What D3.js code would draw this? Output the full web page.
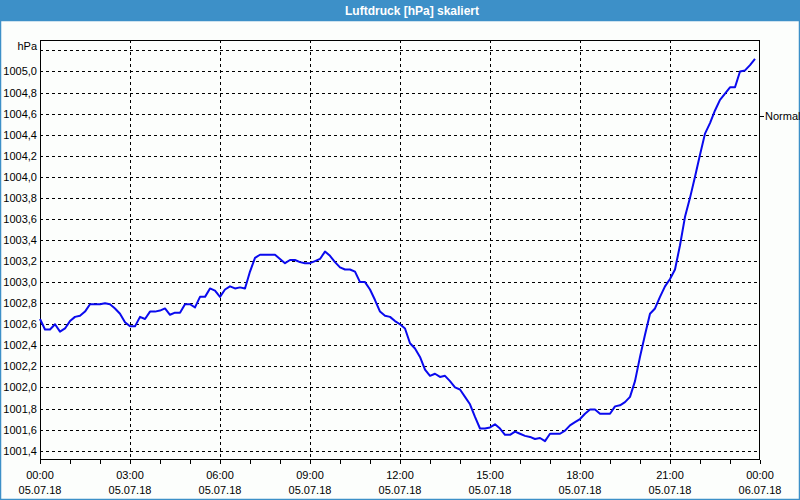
<!DOCTYPE html>
<html>
<head>
<meta charset="utf-8">
<script src="https://cdn.jsdelivr.net/npm/d3@7"></script>
<style>
html,body{margin:0;padding:0;background:#fcfefc;}
svg{display:block;}
text{font-family:"Liberation Sans",Arial,sans-serif;font-size:11px;fill:#000;}
</style>
</head>
<body>
<svg id="chart" width="800" height="500"></svg>
<script>
const title = "Luftdruck [hPa] skaliert";
const unitLabel = "hPa";
const refLabel = "Normal";
const refValue = 1004.58;
const startTime = "2018-07-05T00:00:00";
const endTime = "2018-07-06T00:00:00";
const stepMinutes = 10;
const pressure = [
1002.65,1002.55,1002.55,1002.60,1002.53,1002.56,1002.63,1002.67,1002.68,1002.72,
1002.79,1002.79,1002.79,1002.80,1002.79,1002.75,1002.70,1002.62,1002.58,1002.58,
1002.67,1002.65,1002.72,1002.72,1002.73,1002.75,1002.69,1002.71,1002.71,1002.79,
1002.79,1002.76,1002.86,1002.86,1002.94,1002.92,1002.86,1002.93,1002.96,1002.94,
1002.95,1002.94,1003.10,1003.23,1003.26,1003.26,1003.26,1003.26,1003.22,1003.18,
1003.21,1003.21,1003.19,1003.18,1003.18,1003.20,1003.22,1003.29,1003.25,1003.19,
1003.14,1003.12,1003.12,1003.10,1003.00,1003.00,1002.93,1002.83,1002.72,1002.68,
1002.67,1002.63,1002.60,1002.56,1002.42,1002.37,1002.29,1002.17,1002.11,1002.13,
1002.10,1002.11,1002.06,1002.00,1001.98,1001.91,1001.84,1001.72,1001.61,1001.61,
1001.62,1001.65,1001.61,1001.55,1001.55,1001.58,1001.56,1001.54,1001.53,1001.51,
1001.52,1001.49,1001.56,1001.56,1001.56,1001.59,1001.64,1001.67,1001.70,1001.75,
1001.79,1001.79,1001.75,1001.75,1001.75,1001.82,1001.83,1001.86,1001.91,1002.06,
1002.29,1002.50,1002.70,1002.75,1002.86,1002.96,1003.03,1003.12,1003.35,1003.62,
1003.80,1004.00,1004.21,1004.41,1004.51,1004.63,1004.73,1004.79,1004.85,1004.85,
1005.00,1005.01,1005.06,1005.12
];
const yTicks = [1001.4,1001.6,1001.8,1002.0,1002.2,1002.4,1002.6,1002.8,1003.0,1003.2,1003.4,1003.6,1003.8,1004.0,1004.2,1004.4,1004.6,1004.8,1005.0];
const yGridTop = 1005.2;
const xTickHours = ["00:00","03:00","06:00","09:00","12:00","15:00","18:00","21:00","00:00"];
const xTickDates = ["05.07.18","05.07.18","05.07.18","05.07.18","05.07.18","05.07.18","05.07.18","05.07.18","06.07.18"];

const svg = d3.select("#chart");
const W = 800, H = 500;
const L = 40, R = 760, T = 40, B = 460;

const t0 = new Date(startTime), t1 = new Date(endTime);
const data = pressure.map((v,i)=>({t:new Date(t0.getTime()+i*stepMinutes*60000), v}));

const x = d3.scaleTime().domain([t0,t1]).range([L,R]);
const y = d3.scaleLinear().domain([1001.311,1005.299]).range([B,T]);

// background
svg.append("rect").attr("x",0).attr("y",0).attr("width",W).attr("height",H).attr("fill","#fcfefc");
// title bar
svg.append("rect").attr("x",0).attr("y",0).attr("width",W).attr("height",21).attr("fill","#3d90c8");
svg.append("text").attr("x",412).attr("y",15).attr("text-anchor","middle")
  .style("font-family","'Liberation Sans',Arial,sans-serif").style("font-size","12px").style("font-weight","bold").style("fill","#fff")
  .text(title);
// window border
svg.append("rect").attr("x",0.5).attr("y",20.5).attr("width",W-1).attr("height",H-21).attr("fill","none").attr("stroke","#3d90c8").attr("stroke-width",1.5);

const xTicks = d3.timeHour.every(3).range(t0, new Date(t1.getTime()+1));
const hourTicks = d3.timeHour.every(1).range(t0, new Date(t1.getTime()+1));

// horizontal grid
const hGrid = yTicks.concat([yGridTop]);
svg.append("g").selectAll("line").data(hGrid).join("line")
  .attr("x1",L).attr("x2",R)
  .attr("y1",d=>Math.round(y(d))+0.5).attr("y2",d=>Math.round(y(d))+0.5)
  .attr("stroke","#000").attr("stroke-width",1).attr("stroke-dasharray","3,3");
// vertical grid
svg.append("g").selectAll("line").data(xTicks.slice(1,-1)).join("line")
  .attr("x1",d=>Math.round(x(d))+0.5).attr("x2",d=>Math.round(x(d))+0.5)
  .attr("y1",T).attr("y2",B)
  .attr("stroke","#000").attr("stroke-width",1).attr("stroke-dasharray","3,3");

// frame
svg.append("rect").attr("x",L+0.5).attr("y",T+0.5).attr("width",R-L-1).attr("height",B-T-1)
  .attr("fill","none").attr("stroke","#000").attr("stroke-width",1);

// x axis ticks (hourly)
svg.append("g").selectAll("line").data(hourTicks).join("line")
  .attr("x1",d=>Math.round(x(d))+0.5).attr("x2",d=>Math.round(x(d))+0.5)
  .attr("y1",B).attr("y2",B+4).attr("stroke","#000");
// x labels
const xl = svg.append("g");
xl.selectAll("text.h").data(xTicks).join("text").attr("class","h")
  .attr("x",d=>x(d)).attr("y",479).attr("text-anchor","middle").text((d,i)=>xTickHours[i]);
xl.selectAll("text.d").data(xTicks).join("text").attr("class","d")
  .attr("x",d=>x(d)).attr("y",494).attr("text-anchor","middle").text((d,i)=>xTickDates[i]);

// y labels
svg.append("g").selectAll("text").data(yTicks).join("text")
  .attr("x",37).attr("y",d=>y(d)+4).attr("text-anchor","end")
  .text(d=>d3.format(".1f")(d).replace(".",","));
svg.append("text").attr("x",37).attr("y",y(yGridTop)).attr("text-anchor","end").text(unitLabel);

// reference label at right
svg.append("line").attr("x1",R).attr("x2",R+4).attr("y1",Math.round(y(refValue))+0.5).attr("y2",Math.round(y(refValue))+0.5).attr("stroke","#000");
svg.append("text").attr("x",R+5).attr("y",y(refValue)+4).text(refLabel);

// line
svg.append("path").datum(data)
  .attr("fill","none").attr("stroke","#0a0aee").attr("stroke-width",2).attr("stroke-linejoin","round")
  .attr("d", d3.line().x(d=>x(d.t)).y(d=>y(d.v)));
</script>
</body>
</html>
